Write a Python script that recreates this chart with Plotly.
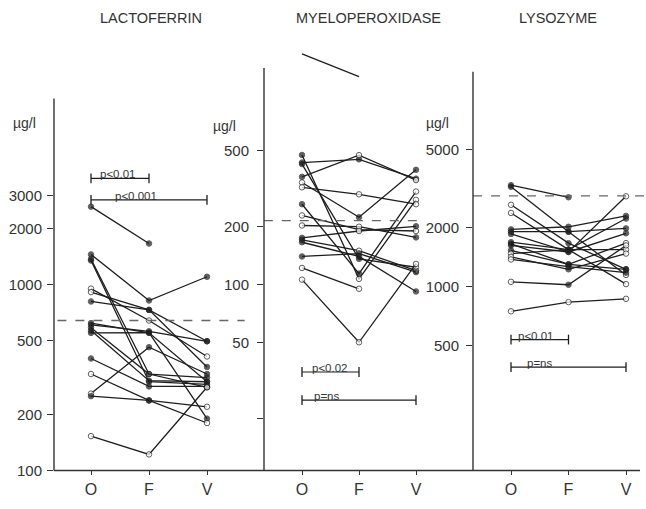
import math
import plotly.graph_objects as go

W, H = 646, 509
INK = "#1e1e1e"
TXT = "#333333"
FONT = "Liberation Sans, Arial, sans-serif"

STAGES = ["O", "F", "V"]
TITLES = ["LACTOFERRIN", "MYELOPEROXIDASE", "LYSOZYME"]
UNIT = "µg/l"

# ---- Lactoferrin (µg/l) per patient at O, F, V ----
LF_O = [2620, 1450, 1370, 1345, 950, 910, 810, 620, 606, 585, 565, 549, 400, 330, 259, 251, 153]
LF_F = [1660, 820, 330, 300, 640, 730, 730, 550, 560, 330, 304, 550, 283, 238, 460, 238, 122]
LF_V = [None, 1100, 280, 290, 410, 360, 495, 300, 495, 316, 300, 190, 283, 180, 330, 220, 280]
LF_FILL = ["ff-", "fff", "fof", "fff", "ooo", "off", "fff", "fff", "fff", "fff", "fff",
           "fff", "fff", "ofo", "off", "ffo", "ooo"]
LF_TICKS = [100, 200, 500, 1000, 2000, 3000]
LF_TICKTEXT = ["100", "200", "500", "1000", "2000", "3000"]
LF_REF = 640
LF_SIG = [("p<0.01", 0, 1, 3720), ("p<0.001", 0, 2, 2850)]

# ---- Myeloperoxidase (µg/l) ----
MPO_O = [1590, 473, 432, 424, 364, 340, 321, 262, 229, 203, 175, 171, 166, 140, 122, 106]
MPO_F = [1210, 107, 449, 136, 472, 224, 295, 114, 193, 200, 190, 150, 140, 145, 95, 50]
MPO_V = [None, 276, 356, 123, 350, 396, 262, 305, 190, 176, 201, 118, 92, 116, None, 128]
MPO_FILL = ["nn-", "foo", "fff", "ffo", "foo", "off", "ooo", "ffo", "ooo", "oof", "fof",
            "foo", "fff", "fff", "oo-", "ooo"]
MPO_TICKS = [20, 50, 100, 200, 500]
MPO_TICKTEXT = ["", "50", "100", "200", "500"]
MPO_REF = 215
MPO_SIG = [("p<0.02", 0, 1, 35), ("p=ns", 0, 2, 25)]

# ---- Lysozyme (µg/l) ----
LZ_O = [3285, 3222, 2608, 2370, 1954, 1902, 1851, 1681, 1618, 1527, 1470, 1414, 1372, 1650, 1055, 746]
LZ_F = [2850, 1900, 1662, 1540, 2015, 1902, 1500, 1540, 1498, 1295, 1540, 1222, 1260, 1295, 1019, 831]
LZ_V = [None, 1144, 1222, 1027, 2290, 1977, 2882, 2220, 1866, 1662, 1540, 1470, 1175, 1222, 1618, 864]
LZ_FILL = ["ff-", "ffo", "off", "ofo", "fff", "fff", "ffo", "fff", "fff", "ffo", "ofo",
           "ofo", "off", "fff", "ofo", "ooo"]
LZ_TICKS = [500, 1000, 2000, 5000]
LZ_TICKTEXT = ["500", "1000", "2000", "5000"]
LZ_REF = 2900
LZ_SIG = [("p<0.01", 0, 1, 535), ("p=ns", 0, 2, 387)]

PANELS = [
    dict(O=LF_O, F=LF_F, V=LF_V, fill=LF_FILL, ticks=LF_TICKS, ticktext=LF_TICKTEXT,
         ref=LF_REF, sig=LF_SIG),
    dict(O=MPO_O, F=MPO_F, V=MPO_V, fill=MPO_FILL, ticks=MPO_TICKS, ticktext=MPO_TICKTEXT,
         ref=MPO_REF, sig=MPO_SIG),
    dict(O=LZ_O, F=LZ_F, V=LZ_V, fill=LZ_FILL, ticks=LZ_TICKS, ticktext=LZ_TICKTEXT,
         ref=LZ_REF, sig=LZ_SIG),
]

# ---- layout geometry (pixels) ----
BASE = 478
GEOM = [
    dict(axis=54, o=91, sp=58, right=248, top=100, line_top=100, lo=2.0, dec=189,
         ref_x=(-0.58, 2.65), title_x=151, unit=(24, 125), sigx=(0.47, 0.77), standoff=2),
    dict(axis=264, o=302, sp=57, right=444, top=50, line_top=69, lo=1.031, dec=195,
         ref_x=(-0.67, 2.07), title_x=368, unit=(224, 128), sigx=(0.49, 0.44), standoff=5),
    dict(axis=473, o=511, sp=57.5, right=646, top=73, line_top=73, lo=2.06, dec=199,
         ref_x=(-0.66, 2.35), title_x=558, unit=(438, 125), sigx=(0.43, 0.5), standoff=4),
]

fig = go.Figure()
shapes = []
annotations = []

for i, (p, g) in enumerate(zip(PANELS, GEOM)):
    n = "" if i == 0 else str(i + 1)
    xa, ya = "x" + n, "y" + n
    # patient lines
    for o, f, v, fl in zip(p["O"], p["F"], p["V"], p["fill"]):
        sizes, colors = [], []
        for c in fl:
            if c == "f":
                sizes.append(5.5); colors.append(INK)
            elif c == "o":
                sizes.append(5.5); colors.append("white")
            else:
                sizes.append(0); colors.append(INK)
        fig.add_trace(go.Scatter(
            x=[0, 1, 2], y=[o, f, v], mode="lines+markers",
            line=dict(color=INK, width=1.3),
            marker=dict(symbol="circle", size=sizes, color=colors,
                        line=dict(color=INK, width=1)),
            xaxis=xa, yaxis=ya, showlegend=False, hoverinfo="skip", cliponaxis=False))
    # reference dashed line
    fig.add_trace(go.Scatter(
        x=list(g["ref_x"]), y=[p["ref"], p["ref"]], mode="lines",
        line=dict(color="#666666", width=1.3, dash="dash"),
        xaxis=xa, yaxis=ya, showlegend=False, hoverinfo="skip"))
    # significance brackets
    for (label, a, b, val), sx in zip(p["sig"], g["sigx"]):
        fig.add_trace(go.Scatter(
            x=[a, b], y=[val, val], mode="lines+markers",
            line=dict(color=INK, width=1.2),
            marker=dict(symbol="line-ns", size=7, line=dict(color=INK, width=1.3)),
            xaxis=xa, yaxis=ya, showlegend=False, hoverinfo="skip", cliponaxis=False))
        annotations.append(dict(
            text=label, x=sx, y=math.log10(val), xref=xa, yref=ya,
            xanchor="center", yanchor="bottom", yshift=-4, showarrow=False,
            font=dict(family=FONT, size=11.5, color=TXT)))

    xdom = [g["axis"] / W, g["right"] / W]
    xr = [(g["axis"] - g["o"]) / g["sp"], (g["right"] - g["o"]) / g["sp"]]
    ydom = [(H - BASE) / H, (H - g["top"]) / H]
    yr = [g["lo"], g["lo"] + (BASE - g["top"]) / g["dec"]]

    fig.update_layout(**{
        "xaxis" + n: dict(domain=xdom, range=xr, anchor=ya, tickvals=[0, 1, 2],
                          ticktext=STAGES, ticks="outside", ticklen=4, tickwidth=1.2,
                          tickcolor=TXT, showgrid=False, zeroline=False, showline=False,
                          tickfont=dict(family=FONT, size=16, color=TXT)),
        "yaxis" + n: dict(domain=ydom, range=yr, type="log", anchor=xa,
                          tickvals=p["ticks"], ticktext=p["ticktext"], ticks="outside",
                          ticklen=6, tickwidth=1.2, tickcolor=TXT, showgrid=False,
                          zeroline=False, showline=False,
                          ticklabelstandoff=g["standoff"],
                          tickfont=dict(family=FONT, size=15, color=TXT)),
    })

    # vertical axis line
    shapes.append(dict(type="line", xref="paper", yref="paper",
                       x0=g["axis"] / W, x1=g["axis"] / W,
                       y0=(H - BASE) / H, y1=(H - g["line_top"]) / H,
                       line=dict(color=TXT, width=1.4)))
    # title
    annotations.append(dict(text=TITLES[i], x=g["title_x"] / W, y=1 - 18 / H,
                            xref="paper", yref="paper", showarrow=False,
                            xanchor="center", yanchor="middle",
                            font=dict(family=FONT, size=14.5, color=TXT)))
    # unit label
    annotations.append(dict(text=UNIT, x=g["unit"][0] / W, y=1 - g["unit"][1] / H,
                            xref="paper", yref="paper", showarrow=False,
                            xanchor="center", yanchor="middle",
                            font=dict(family=FONT, size=14, color=TXT)))

# common baseline
shapes.append(dict(type="line", xref="paper", yref="paper",
                   x0=54 / W, x1=640 / W, y0=(H - BASE) / H, y1=(H - BASE) / H,
                   line=dict(color=TXT, width=1.6)))

fig.update_layout(width=W, height=H, margin=dict(l=0, r=0, t=0, b=0),
                  paper_bgcolor="white", plot_bgcolor="rgba(0,0,0,0)",
                  shapes=shapes, annotations=annotations,
                  font=dict(family=FONT, color=TXT))

fig.write_html("out.html")
